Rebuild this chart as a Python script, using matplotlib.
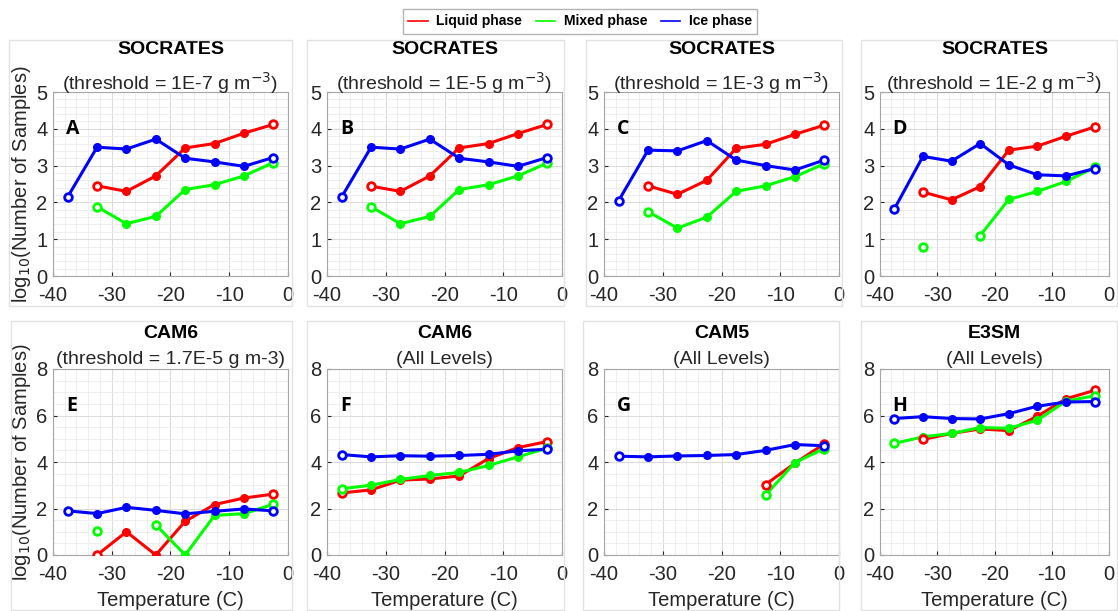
import numpy as np
import matplotlib.pyplot as plt
from matplotlib.lines import Line2D
from matplotlib.patches import Rectangle
from matplotlib.ticker import MultipleLocator

plt.rcParams['font.family'] = ['Liberation Sans', 'DejaVu Sans']
plt.rcParams['axes.unicode_minus'] = False

# temperature bin centres (C)
temps = [-37.5, -32.5, -27.5, -22.5, -17.5, -12.5, -7.5, -2.5]
nan = np.nan

# log10(number of samples) per panel: liquid, mixed, ice
liquid = {
    'A': [nan, 2.45, 2.30, 2.72, 3.48, 3.60, 3.88, 4.12],
    'B': [nan, 2.44, 2.30, 2.72, 3.48, 3.60, 3.87, 4.12],
    'C': [nan, 2.45, 2.22, 2.60, 3.47, 3.58, 3.85, 4.10],
    'D': [nan, 2.28, 2.07, 2.43, 3.42, 3.53, 3.80, 4.05],
    'E': [nan, 0.00, 1.00, 0.00, 1.45, 2.17, 2.45, 2.62],
    'F': [2.67, 2.80, 3.22, 3.27, 3.40, 4.15, 4.62, 4.88],
    'G': [nan, nan, nan, nan, nan, 3.03, 3.95, 4.78],
    'H': [nan, 4.97, 5.23, 5.42, 5.35, 5.97, 6.72, 7.08],
}
mixed = {
    'A': [nan, 1.88, 1.42, 1.62, 2.35, 2.48, 2.72, 3.08],
    'B': [nan, 1.88, 1.42, 1.62, 2.35, 2.48, 2.72, 3.07],
    'C': [nan, 1.75, 1.30, 1.60, 2.30, 2.45, 2.70, 3.05],
    'D': [nan, 0.78, nan, 1.10, 2.08, 2.30, 2.57, 2.95],
    'E': [nan, 1.05, nan, 1.30, 0.00, 1.70, 1.78, 2.18],
    'F': [2.85, 3.00, 3.25, 3.42, 3.55, 3.85, 4.22, 4.60],
    'G': [nan, nan, nan, nan, nan, 2.58, 3.97, 4.58],
    'H': [4.80, 5.08, 5.23, 5.48, 5.45, 5.80, 6.62, 6.85],
}
ice = {
    'A': [2.15, 3.50, 3.45, 3.72, 3.20, 3.10, 2.98, 3.22],
    'B': [2.15, 3.50, 3.45, 3.72, 3.20, 3.10, 2.98, 3.22],
    'C': [2.05, 3.42, 3.40, 3.68, 3.15, 3.00, 2.88, 3.15],
    'D': [1.82, 3.25, 3.12, 3.60, 3.02, 2.75, 2.72, 2.92],
    'E': [1.90, 1.78, 2.05, 1.92, 1.77, 1.88, 1.98, 1.90],
    'F': [4.32, 4.22, 4.27, 4.25, 4.28, 4.33, 4.48, 4.55],
    'G': [4.25, 4.22, 4.26, 4.28, 4.32, 4.50, 4.75, 4.70],
    'H': [5.87, 5.95, 5.87, 5.85, 6.08, 6.40, 6.58, 6.60],
}

panels = ['A', 'B', 'C', 'D', 'E', 'F', 'G', 'H']
titles = ['SOCRATES', 'SOCRATES', 'SOCRATES', 'SOCRATES', 'CAM6', 'CAM6', 'CAM5', 'E3SM']
subtitles = ['(threshold = 1E-7 g m$^{-3}$)', '(threshold = 1E-5 g m$^{-3}$)',
             '(threshold = 1E-3 g m$^{-3}$)', '(threshold = 1E-2 g m$^{-3}$)',
             '(threshold = 1.7E-5 g m-3)', '(All Levels)', '(All Levels)', '(All Levels)']

W, H = 1118, 611
fig = plt.figure(figsize=(W / 100, H / 100), dpi=100)

# light panel frames (pixels: x0, y0, x1, y1)
frames = [(9, 40, 292, 306), (307, 40, 564, 306), (586, 40, 842, 306), (861, 40, 1117, 306),
          (11, 321, 292, 610), (307, 321, 564, 610), (583, 321, 839, 610), (861, 321, 1117, 610)]
for x0, y0, x1, y1 in frames:
    fig.patches.append(Rectangle((x0 / W, 1 - y1 / H), (x1 - x0) / W, (y1 - y0) / H,
                                 transform=fig.transFigure, fill=False, ec='#e2e2e2', lw=1))

lefts = [53, 327, 604, 880]
widths = [235, 235, 235, 229]
row_top = [(92, 276), (369, 555)]
# title / subtitle centre offsets above the axes, pixels
title_off = [(42, 12), (36, 11)]
colors = {'liquid': (1, 0, 0), 'mixed': (0, 1, 0), 'ice': (0, 0, 1)}


def draw_series(ax, y, c):
    y = np.array(y, dtype=float)
    x = np.array(temps)
    ax.plot(x, y, color=c, lw=2.2, marker='o', ms=5.5, mfc=c, mec=c, zorder=3)
    # hollow markers at the ends of each contiguous segment
    ok = ~np.isnan(y)
    ends = []
    for i in range(len(y)):
        if not ok[i]:
            continue
        if i == 0 or not ok[i - 1] or i == len(y) - 1 or not ok[i + 1]:
            ends.append(i)
    ax.plot(x[ends], y[ends], ls='none', marker='o', ms=5.5, mfc='white', mec=c, mew=2, zorder=4)


for k, p in enumerate(panels):
    r, c = divmod(k, 4)
    top, bot = row_top[r]
    ax_h = bot - top
    ax = fig.add_axes([lefts[c] / W, 1 - bot / H, widths[c] / W, ax_h / H])
    draw_series(ax, liquid[p], colors['liquid'])
    draw_series(ax, mixed[p], colors['mixed'])
    draw_series(ax, ice[p], colors['ice'])

    ax.set_xlim(-40, 0)
    ax.xaxis.set_major_locator(MultipleLocator(10))
    ax.xaxis.set_minor_locator(MultipleLocator(2))
    if r == 0:
        ax.set_ylim(0, 5)
        ax.yaxis.set_major_locator(MultipleLocator(1))
        ax.yaxis.set_minor_locator(MultipleLocator(0.2))
    else:
        ax.set_ylim(0, 8)
        ax.yaxis.set_major_locator(MultipleLocator(2))
        ax.yaxis.set_minor_locator(MultipleLocator(0.5))
        ax.set_xlabel('Temperature (C)', fontsize=14.5, color='#262626', labelpad=5)
    ax.grid(which='major', color='#dcdcdc', lw=0.8)
    ax.grid(which='minor', color='#ececec', lw=0.6)
    ax.set_axisbelow(True)
    ax.tick_params(which='both', direction='in', labelsize=14.5, colors='#262626', length=3)
    ax.tick_params(axis='x', pad=7)
    ax.tick_params(axis='y', pad=4)
    ax.tick_params(which='minor', length=0)
    for s in ax.spines.values():
        s.set_color('#a6a6a6')
    if c == 0:
        ax.set_ylabel('log$_{10}$(Number of Samples)', fontsize=14.5, color='#262626', labelpad=2)

    t_off, s_off = title_off[r]
    ax.text(0.5, 1 + t_off / ax_h, titles[k], transform=ax.transAxes, ha='center', va='center',
            fontsize=14, fontweight='bold', color='black')
    ax.text(0.5, 1 + s_off / ax_h, subtitles[k], transform=ax.transAxes, ha='center',
            va='center_baseline', fontsize=14, color='#262626')
    ax.text(0.055, 0.8, p, transform=ax.transAxes, ha='left', va='center',
            fontsize=14, fontweight='bold', family=['Open Sans', 'DejaVu Sans'])

handles = [Line2D([], [], color=colors['liquid'], lw=1.2),
           Line2D([], [], color=colors['mixed'], lw=1.2),
           Line2D([], [], color=colors['ice'], lw=1.2)]
leg = fig.legend(handles, ['Liquid phase', 'Mixed phase', 'Ice phase'], ncol=3,
                 loc='upper center', bbox_to_anchor=(580 / W, 1 - 2 / H),
                 prop={'weight': 'bold', 'size': 10}, handlelength=1.4, handletextpad=0.6,
                 columnspacing=1.0, fancybox=False, edgecolor='#a0a0a0', borderpad=0.4)
leg.get_frame().set_linewidth(1)

fig.savefig('out.png', dpi=100)
